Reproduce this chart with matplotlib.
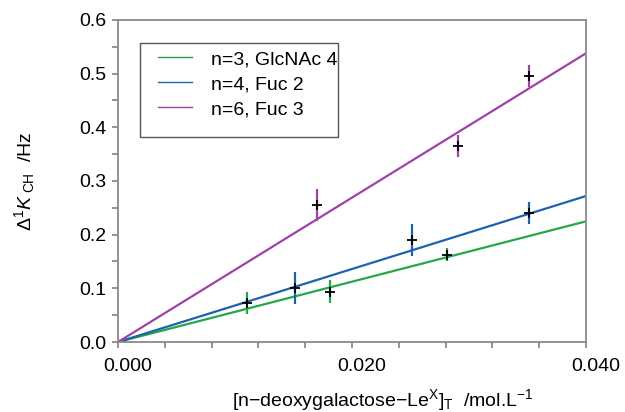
import matplotlib
matplotlib.use("Agg")
import matplotlib.pyplot as plt
import numpy as np
from matplotlib.ticker import MultipleLocator, FixedLocator, FuncFormatter
from matplotlib.transforms import ScaledTranslation
from matplotlib.patches import Rectangle

plt.rcParams['font.family'] = ['Liberation Sans', 'DejaVu Sans']
plt.rcParams['mathtext.fontset'] = 'custom'
plt.rcParams['mathtext.rm'] = 'Liberation Sans'
plt.rcParams['mathtext.it'] = 'Liberation Sans:italic'

labels = ["n=3, GlcNAc 4", "n=4, Fuc 2", "n=6, Fuc 3"]
colors = ["#22a84a", "#2060b0", "#a040a8"]
slopes = [5.62, 6.80, 13.45]

green_x = [0.0110, 0.0181, 0.0281]
green_y = [0.073, 0.094, 0.163]
green_err = [0.021, 0.021, 0.013]

blue_x = [0.0151, 0.0251, 0.0351]
blue_y = [0.100, 0.190, 0.240]
blue_err = [0.030, 0.030, 0.021]

purple_x = [0.0170, 0.0291, 0.0351]
purple_y = [0.255, 0.365, 0.496]
purple_err = [0.030, 0.020, 0.020]

xs = [green_x, blue_x, purple_x]
ys = [green_y, blue_y, purple_y]
errs = [green_err, blue_err, purple_err]

fig = plt.figure(figsize=(6.25, 4.12), dpi=100)
ax = fig.add_axes([0.1888, 0.1699, 0.7488, 0.7816])

xline = np.array([0.0, 0.040])
handles = []
for lab, c, s in zip(labels, colors, slopes):
    h, = ax.plot(xline, s * xline, color=c, lw=1.6, label=lab, zorder=2)
    handles.append(h)

for x, y, e, c in zip(xs, ys, errs, colors):
    ax.errorbar(x, y, yerr=e, fmt='none', ecolor=c, elinewidth=1.6, capsize=0, zorder=3)
    ax.plot(x, y, linestyle='none', marker='+', color='black', markersize=7.5,
            markeredgewidth=1.3, zorder=4)

ax.set_xlim(0.0, 0.040)
ax.set_ylim(0.0, 0.6)
ax.xaxis.set_major_locator(FixedLocator([0.0, 0.02, 0.04]))
ax.xaxis.set_minor_locator(MultipleLocator(0.004))
ax.yaxis.set_major_locator(MultipleLocator(0.1))
ax.yaxis.set_minor_locator(MultipleLocator(0.05))
ax.xaxis.set_major_formatter(FuncFormatter(lambda v, p: f"{v:.3f}"))
ax.yaxis.set_major_formatter(FuncFormatter(lambda v, p: f"{v:.1f}"))

spine_col = "#8a8a8a"
for sp in ax.spines.values():
    sp.set_color(spine_col)
    sp.set_linewidth(1.3)
ax.tick_params(which='both', direction='out', color=spine_col, width=1.3, length=4.2,
               labelsize=14, labelcolor='black')
ax.tick_params(axis='x', which='major', pad=7)
ax.tick_params(axis='y', which='major', pad=4)

offset = ScaledTranslation(10 / 100, 0, fig.dpi_scale_trans)
for t in ax.xaxis.get_major_ticks():
    t.label1.set_transform(t.label1.get_transform() + offset)

ax.set_ylabel(r"$\Delta^{1}\mathit{K}_{\ \mathrm{CH}}$  /Hz", fontsize=14)
ax.yaxis.set_label_coords(-0.173, 0.5)
ax.set_xlabel(r"[n$-$deoxygalactose$-$Le$^{\mathrm{X}}$]$_{\mathrm{T}}$  /mol.L$^{-1}$",
              fontsize=14, va='baseline')
ax.xaxis.set_label_coords(0.566, -0.199)

leg = ax.legend(handles=handles, loc='upper left', bbox_to_anchor=(0.085, 0.905),
                borderaxespad=0, borderpad=0, fontsize=14, frameon=False,
                handlelength=1.75, handletextpad=1.0, labelspacing=0.38)
for lh in leg.get_lines():
    lh.set_linewidth(1.0)
ax.add_patch(Rectangle((0.047, 0.6366), 0.423, 0.292, transform=ax.transAxes,
                       fill=False, edgecolor="#555555", lw=1.0, zorder=5))

fig.savefig("out.png", dpi=100)
